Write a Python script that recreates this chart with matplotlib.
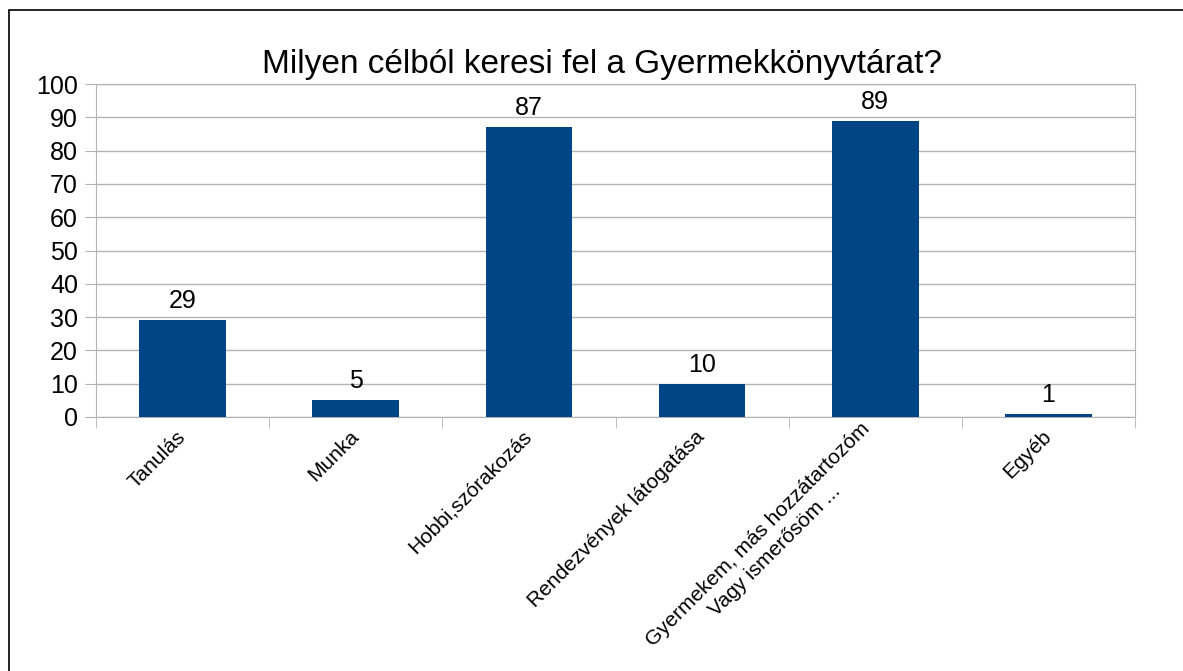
import matplotlib.pyplot as plt
import matplotlib.patches as mpatches
import numpy as np

plt.rcParams['font.family'] = ['Liberation Sans', 'DejaVu Sans']

categories = ['Tanulás', 'Munka', 'Hobbi,szórakozás', 'Rendezvények látogatása',
              'Gyermekem, más hozzátartozóm\nVagy ismerősöm ...', 'Egyéb']
values = [29, 5, 87, 10, 89, 1]
title = 'Milyen célból keresi fel a Gyermekkönyvtárat?'

bar_color = '#004586'
grid_color = '#b3b3b3'

fig = plt.figure(figsize=(11.83, 6.71), dpi=100)
ax = fig.add_axes([96 / 1183, 1 - 417 / 671, (1135 - 96) / 1183, (417 - 84) / 671])

x = np.arange(len(categories))
bars = ax.bar(x, values, width=0.5, color=bar_color, zorder=3)

# value labels above the bars
for xi, v in zip(x, values):
    ax.annotate(str(v), (xi, v), xytext=(0, 5), textcoords='offset points',
                ha='center', va='bottom', fontsize=18, color='black')

ax.set_xlim(-0.5, len(categories) - 0.5)
ax.set_ylim(0, 100)
ax.set_yticks(np.arange(0, 101, 10))
ax.yaxis.grid(True, color=grid_color, linewidth=1, zorder=0)
ax.tick_params(axis='y', length=8, color=grid_color, labelsize=18, pad=5)

ax.set_xticks(x)
ax.set_xticklabels(categories, rotation=45, ha='right', va='center',
                   rotation_mode='anchor', multialignment='center',
                   fontsize=15, linespacing=1.25)
ax.set_xticks(np.arange(-0.5, len(categories), 1), minor=True)
ax.tick_params(axis='x', which='major', length=0, pad=12)
ax.tick_params(axis='x', which='minor', length=8, color=grid_color)

for s in ax.spines.values():
    s.set_color(grid_color)

fig.text(602 / 1183, 1 - 73 / 671, title, ha='center', va='baseline', fontsize=24)

# outer frame of the chart
fig.patches.append(mpatches.Rectangle((9 / 1183, -0.1), 1.2, 1.1 - 10 / 671,
                                      transform=fig.transFigure, fill=False,
                                      edgecolor='black', linewidth=1.2))

fig.savefig('out.png', dpi=100)
